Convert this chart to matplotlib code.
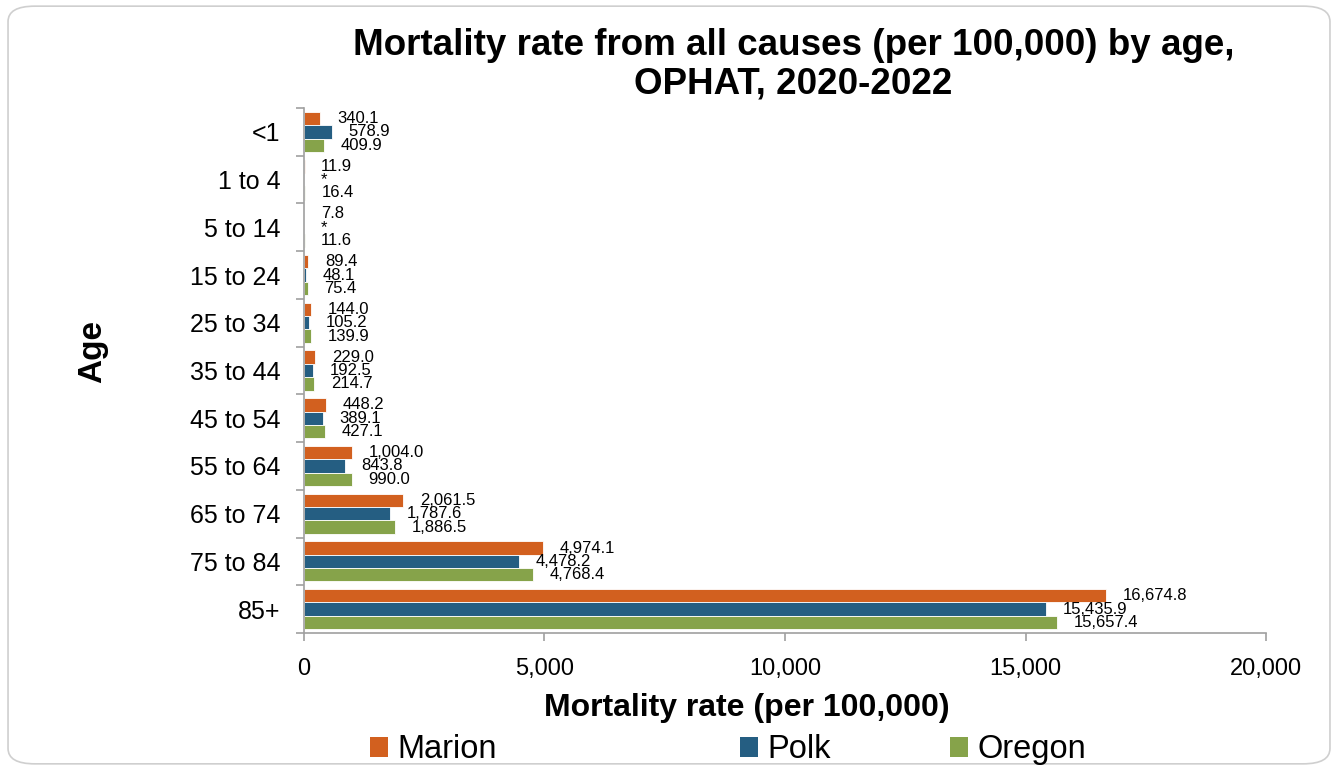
import matplotlib
matplotlib.use('Agg')
import matplotlib.pyplot as plt
import numpy as np
from matplotlib.patches import FancyBboxPatch, Patch

ages = ['<1', '1 to 4', '5 to 14', '15 to 24', '25 to 34', '35 to 44',
        '45 to 54', '55 to 64', '65 to 74', '75 to 84', '85+']
marion = [340.1, 11.9, 7.8, 89.4, 144.0, 229.0, 448.2, 1004.0, 2061.5, 4974.1, 16674.8]
polk = [578.9, np.nan, np.nan, 48.1, 105.2, 192.5, 389.1, 843.8, 1787.6, 4478.2, 15435.9]
oregon = [409.9, 16.4, 11.6, 75.4, 139.9, 214.7, 427.1, 990.0, 1886.5, 4768.4, 15657.4]

series = [('Marion', marion, '#D2601F'),
          ('Polk', polk, '#255E82'),
          ('Oregon', oregon, '#86A34A')]

plt.rcParams['font.family'] = ['Liberation Sans', 'DejaVu Sans']

fig = plt.figure(figsize=(13.38, 7.7), dpi=100)
border = FancyBboxPatch((0.006, 0.008), 0.988, 0.984, boxstyle='round,pad=0,rounding_size=0.02',
                        transform=fig.transFigure, facecolor='white', edgecolor='#CFCFCF',
                        linewidth=1.2, zorder=-10)
fig.patches.append(border)

ax = fig.add_axes([0.2272, 0.1779, 0.7190, 0.6818])
ax.set_facecolor('none')

y = np.arange(len(ages))
h = 0.28
for k, (name, vals, color) in enumerate(series):
    pos = y + (k - 1) * h
    v = np.array(vals, dtype=float)
    ax.barh(pos, np.nan_to_num(v), height=h, color=color, edgecolor='white', linewidth=0.6)
    for p, val in zip(pos, v):
        lab = '*' if np.isnan(val) else f'{val:,.1f}'
        x = 0 if np.isnan(val) else val
        ax.annotate(lab, (x, p), xytext=(12, 0), textcoords='offset points',
                    ha='left', va='center', fontsize=12, color='black')

ax.set_xlim(0, 20000)
ax.set_ylim(len(ages) - 0.5, -0.5)
ax.set_xticks([0, 5000, 10000, 15000, 20000])
ax.set_xticklabels([f'{t:,}' for t in [0, 5000, 10000, 15000, 20000]])
ax.set_yticks(y)
ax.set_yticklabels(ages)
ax.set_yticks(np.arange(-0.5, len(ages), 1), minor=True)
ax.tick_params(axis='y', which='major', length=0, pad=17, labelsize=18)
ax.tick_params(axis='y', which='minor', length=6, color='#A0A0A0', width=1.2)
ax.tick_params(axis='x', length=6, color='#A0A0A0', width=1.2, pad=12, labelsize=17)
for s in ['top', 'right']:
    ax.spines[s].set_visible(False)
for s in ['left', 'bottom']:
    ax.spines[s].set_color('#A0A0A0')
    ax.spines[s].set_linewidth(1.2)

fig.text(0.593, 0.916, 'Mortality rate from all causes (per 100,000) by age,\nOPHAT, 2020-2022',
         ha='center', va='center', fontsize=26.5, fontweight='bold', linespacing=1.1)
fig.text(0.558, 0.080, 'Mortality rate (per 100,000)', ha='center', va='center',
         fontsize=23, fontweight='bold')
fig.text(0.069, 0.543, 'Age', ha='center', va='center', rotation=90,
         fontsize=24, fontweight='bold')

leg_x = [0.2765, 0.553, 0.710]
for (name, vals, color), lx in zip(series, leg_x):
    fig.legend(handles=[Patch(facecolor=color, label=name)], loc='center left',
               bbox_to_anchor=(lx, 0.026), frameon=False, fontsize=23.5,
               handlelength=0.55, handleheight=0.55, handletextpad=0.3,
               borderpad=0, borderaxespad=0)

fig.savefig('out.png', dpi=100)
